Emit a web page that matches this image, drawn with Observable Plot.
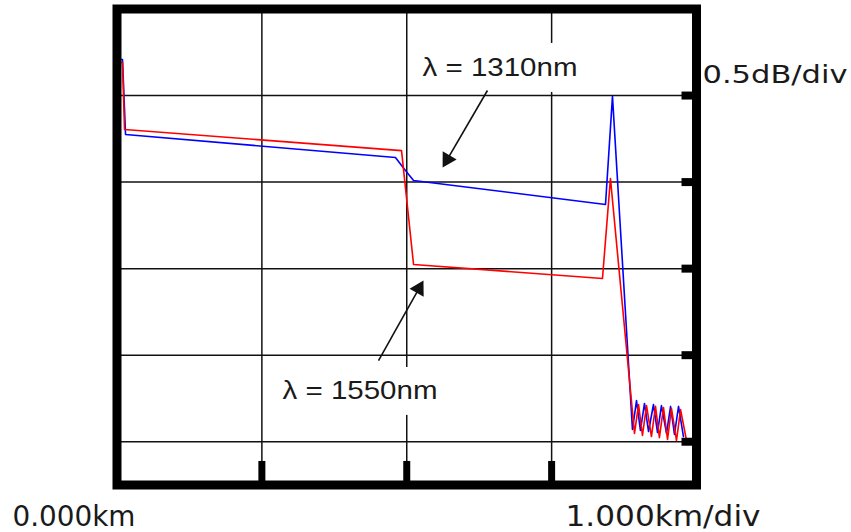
<!DOCTYPE html>
<html><head><meta charset="utf-8">
<script src="https://cdn.jsdelivr.net/npm/d3@7"></script>
<script src="https://cdn.jsdelivr.net/npm/@observablehq/plot@0.6"></script>
<style>body{margin:0;background:#fff} #chart{width:851px;height:532px}</style>
</head><body><div id="chart"></div>
<script>
// grid divisions
const xGrid = [1, 2, 3];                 // km (1.000 km/div)
const yGrid = [0, 0.5, 1, 1.5, 2];       // dB (0.5 dB/div)

// λ = 1310 nm trace
const blueKm = [0, 0.038, 0.059, 1.922, 1.991, 2.047, 3.372, 3.420, 3.558, 3.586, 3.613, 3.641, 3.669, 3.703, 3.731, 3.758, 3.793, 3.821, 3.848, 3.876, 3.910];
const blueDb = [2.208, 2.208, 1.775, 1.642, 1.567, 1.509, 1.371, 1.995, 0.071, 0.238, 0.065, 0.221, 0.059, 0.215, 0.053, 0.209, 0.048, 0.204, 0.042, 0.204, 0.030];

// λ = 1550 nm trace
const redKm = [0, 0.038, 0.052, 1.964, 2.047, 3.351, 3.406, 3.572, 3.600, 3.627, 3.655, 3.689, 3.717, 3.744, 3.772, 3.800, 3.827, 3.862, 3.890, 3.931];
const redDb = [2.191, 2.191, 1.804, 1.682, 1.024, 0.943, 1.521, 0.048, 0.215, 0.036, 0.209, 0.030, 0.204, 0.024, 0.198, 0.013, 0.192, 0.007, 0.186, 0.007];

// annotation arrows: tail -> tip
const arrowTailKm = [2.557, 1.805];
const arrowTailDb = [2.029, 0.469];
const arrowTipKm = [2.247, 2.116];
const arrowTipDb = [1.584, 0.932];

// label boxes (white backgrounds)
const boxX1 = [2.026, 1.061], boxX2 = [3.958, 2.440];
const boxY1 = [2.018, 0.152], boxY2 = [2.301, 0.429];

const labels = ["λ = 1310nm", "λ = 1550nm"];
const unitY = "0.5dB/div";
const originX = "0.000km";
const unitX = "1.000km/div";

const W = 851, H = 532;
const mL = 116.5, mR = 155, mT = 8.5, mB = 47.5;
const xDomain = [0, 4], yDomain = [-0.25, 2.5];
const kx = (W - mL - mR) / (xDomain[1] - xDomain[0]);
const ky = (H - mT - mB) / (yDomain[1] - yDomain[0]);

const blue = blueKm.map((x, i) => ({x, y: blueDb[i]}));
const red = redKm.map((x, i) => ({x, y: redDb[i]}));
const arrows = arrowTailKm.map((x, i) => {
  const x2 = arrowTipKm[i], y2 = arrowTipDb[i], y1 = arrowTailDb[i];
  const px = (x2 - x) * kx, py = -(y2 - y1) * ky;
  const len = Math.hypot(px, py);
  const back = 9.5;
  return {
    x1: x, y1, x2, y2,
    hx: x2 - (px / len) * back / kx,
    hy: y2 + (py / len) * back / ky,
    rot: Math.atan2(px, -py) * 180 / Math.PI
  };
});
const boxes = boxX1.map((x1, i) => ({x1, x2: boxX2[i], y1: boxY1[i], y2: boxY2[i]}));

const txt = (t, dx, dy, size, family) => Plot.text([t], {
  text: d => d, frameAnchor: "top-left", dx, dy, textAnchor: "start", lineAnchor: "bottom",
  fontSize: size, fontFamily: family, fill: "#1a1a1a"
});

const svg = Plot.plot({
  width: W, height: H,
  marginLeft: mL, marginRight: mR, marginTop: mT, marginBottom: mB,
  x: {domain: xDomain, axis: null},
  y: {domain: yDomain, axis: null},
  style: {background: "white", overflow: "visible"},
  marks: [
    Plot.gridX(xGrid, {stroke: "#111", strokeOpacity: 1, strokeWidth: 1.5}),
    Plot.gridY(yGrid, {stroke: "#111", strokeOpacity: 1, strokeWidth: 1.5}),
    Plot.rect(boxes, {x1: "x1", x2: "x2", y1: "y1", y2: "y2", fill: "white"}),
    Plot.line(blue, {x: "x", y: "y", stroke: "#0000ff", strokeWidth: 1.6, strokeLinejoin: "round"}),
    Plot.line(red, {x: "x", y: "y", stroke: "#ff0000", strokeWidth: 1.6, strokeLinejoin: "round"}),
    Plot.link(arrows, {x1: "x1", y1: "y1", x2: "hx", y2: "hy", stroke: "#111", strokeWidth: 1.6}),
    Plot.dot(arrows, {x: "hx", y: "hy", symbol: "triangle", r: 6, rotate: "rot", fill: "#111", stroke: "none"}),
    txt(labels[0], 305.5, 66.5, 26, "Liberation Sans, Arial, sans-serif"),
    txt(labels[1], 165.5, 389.5, 26, "Liberation Sans, Arial, sans-serif"),
    txt(unitY, 585.5, 73.5, 25, "DejaVu Sans, sans-serif"),
    txt(originX, -104.5, 517, 29, "DejaVu Sans, sans-serif"),
    txt(unitX, 448.5, 517, 29, "DejaVu Sans, sans-serif"),
    Plot.frame({stroke: "black", strokeWidth: 9}),
    Plot.ruleY(yGrid, {x1: 3.9, x2: 4, stroke: "black", strokeWidth: 8}),
    Plot.ruleX(xGrid, {y1: -0.25, y2: -0.114, stroke: "black", strokeWidth: 7})
  ]
});

const lengths = {"λ = 1310nm": 155, "λ = 1550nm": 155, "0.5dB/div": 145, "0.000km": 123, "1.000km/div": 195};
d3.select(svg).selectAll("text").each(function() {
  const t = this.textContent;
  if (lengths[t]) {
    this.setAttribute("textLength", lengths[t]);
    this.setAttribute("lengthAdjust", "spacingAndGlyphs");
  }
});
document.getElementById("chart").appendChild(svg);
</script>
</body></html>
